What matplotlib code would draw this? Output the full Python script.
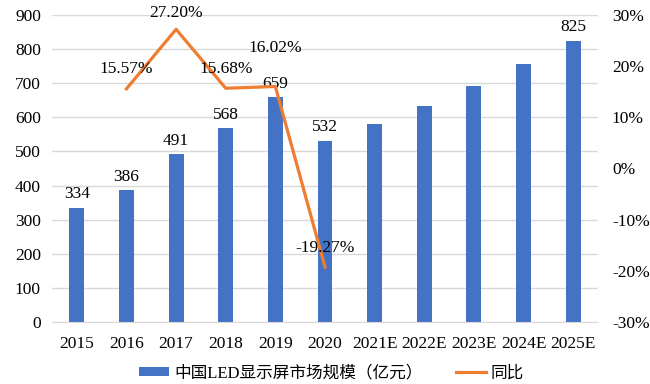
import numpy as np
import matplotlib.pyplot as plt
from matplotlib.ticker import FuncFormatter

plt.rcParams['font.family'] = ['Liberation Serif', 'Noto Sans CJK SC']

# ----- data -----
years = ['2015', '2016', '2017', '2018', '2019', '2020',
         '2021E', '2022E', '2023E', '2024E', '2025E']
market_size = [334, 386, 491, 568, 659, 532, 580, 633, 692, 755, 825]
size_labels = ['334', '386', '491', '568', '659', '532', '', '', '', '', '825']
growth_years = ['2016', '2017', '2018', '2019', '2020']
growth = [15.57, 27.20, 15.68, 16.02, -19.27]

bar_color = '#4472C4'
line_color = '#ED7D31'
fs = 12.5

fig = plt.figure(figsize=(6.5, 3.84), dpi=100)
ax = fig.add_axes([0.08, 0.1615, 0.84, 0.7995])
ax2 = ax.twinx()

x = np.arange(len(years))
bars = ax.bar(x, market_size, width=0.3, color=bar_color, zorder=2,
              label='中国LED显示屏市场规模（亿元）')
ax.bar_label(bars, labels=size_labels, padding=4, fontsize=fs)

ax.set_ylim(0, 900)
ax.set_yticks(range(0, 901, 100))
ax.set_xlim(-0.5, len(years) - 0.5)
ax.set_xticks(x)
ax.set_xticklabels(years)
ax.grid(axis='y', color='#D9D9D9', linewidth=1, zorder=0)
ax.set_axisbelow(True)

gx = [years.index(y) for y in growth_years]
line, = ax2.plot(gx, growth, color=line_color, linewidth=2.3, label='同比', zorder=3)
ax2.set_ylim(-30, 30)
ax2.set_yticks(range(-30, 31, 10))
ax2.yaxis.set_major_formatter(FuncFormatter(lambda v, p: f'{v:.0f}%'))

# growth labels (offsets in points to mimic the original placement)
offsets = [(0, 14), (0, 12), (0, 14), (0, 28), (0, 14)]
for xi, g, off in zip(gx, growth, offsets):
    ax2.annotate(f'{g:.2f}%', (xi, g), xytext=off, textcoords='offset points',
                 ha='center', va='center', fontsize=fs)

for a in (ax, ax2):
    for s in ['top', 'left', 'right']:
        a.spines[s].set_visible(False)
    a.tick_params(length=0, labelsize=fs)
ax.tick_params(axis='x', pad=10)
ax.tick_params(axis='y', pad=8)
ax.spines['bottom'].set_color('#D9D9D9')
ax2.spines['bottom'].set_visible(False)
ax2.tick_params(axis='y', pad=10)

handles = [bars, line]
fig.legend(handles, [h.get_label() for h in handles], loc='center',
           bbox_to_anchor=(0.51, 0.028), ncol=2, frameon=False, fontsize=12,
           handlelength=1.8, handleheight=0.45, columnspacing=2.0, handletextpad=0.3)

fig.savefig('out.png', dpi=100)
